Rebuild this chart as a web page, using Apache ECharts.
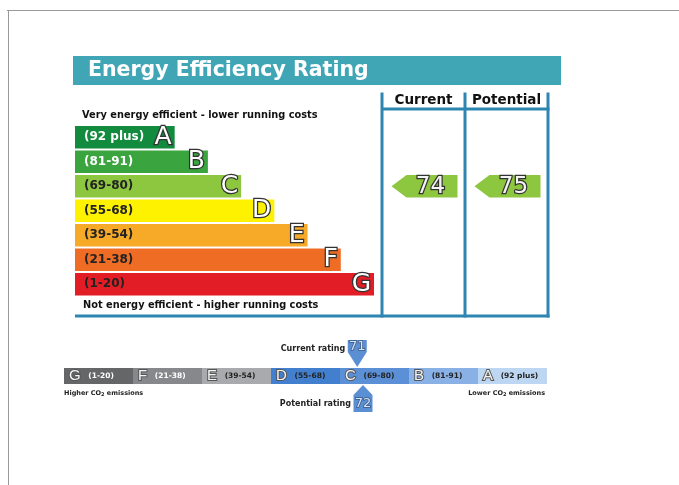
<!DOCTYPE html>
<html lang="en">
<head>
<meta charset="UTF-8">
<title>Energy Efficiency Rating</title>
<script src="https://cdn.jsdelivr.net/npm/echarts@6/dist/echarts.min.js"></script>
<style>
    body { margin: 0; padding: 0; background: #fff; }
</style>
</head>
<body>
<div id="main" style="width:679px;height:485px;"></div>
<script>
    // energy efficiency bands
    var bands = ['A', 'B', 'C', 'D', 'E', 'F', 'G'];
    var bandRanges = ['(92 plus)', '(81-91)', '(69-80)', '(55-68)', '(39-54)', '(21-38)', '(1-20)'];
    var bandMin = [92, 81, 69, 55, 39, 21, 1];
    var bandLength = [3, 4, 5, 6, 7, 8, 9];
    var columns = ['Current', 'Potential'];
    var ratings = [74, 75];

    // CO2 scale, low to high
    var co2Bands = ['G', 'F', 'E', 'D', 'C', 'B', 'A'];
    var co2Ranges = ['(1-20)', '(21-38)', '(39-54)', '(55-68)', '(69-80)', '(81-91)', '(92 plus)'];
    var co2Min = [1, 21, 39, 55, 69, 81, 92];
    var co2Max = [20, 38, 54, 68, 80, 91, 100];
    var co2Labels = ['Current rating', 'Potential rating'];
    var co2Ratings = [71, 72];

    var bandColors = ['#138b3f', '#3aa43e', '#8dc63f', '#fff200', '#f7a928', '#ee6c24', '#e31d26'];
    var bandTextColors = ['#fff', '#fff', '#222', '#222', '#222', '#222', '#222'];
    var co2Colors = ['#656668', '#87888b', '#a9aaad', '#4280cf', '#5b90d6', '#89b1e6', '#bdd6f2'];
    var co2TextColors = ['#fff', '#fff', '#222', '#222', '#222', '#222', '#222'];
    var frame = '#2e85b2';
    var font = '"DejaVu Sans", Verdana, sans-serif';
    var letterFont = '"Liberation Sans", Arial, sans-serif';

    function bandOf(v) {
        for (var i = 0; i < bandMin.length; i++) {
            if (v >= bandMin[i]) return i;
        }
        return bandMin.length - 1;
    }
    function co2Of(v) {
        for (var i = 0; i < co2Min.length; i++) {
            if (v >= co2Min[i] && v <= co2Max[i]) return i;
        }
        return 0;
    }

    var bandData = bandLength.map(function (v, i) {
        return { value: v, itemStyle: { color: bandColors[i] }, label: { color: bandTextColors[i] } };
    });
    var letterData = bandLength.map(function (v) { return v; });
    var arrowData = ratings.map(function (r, i) { return [i, bandOf(r), r]; });

    var co2Data = co2Bands.map(function (b, i) {
        return {
            value: 1,
            itemStyle: { color: co2Colors[i] },
            label: {
                formatter: '{l|' + b + '}  {t|' + co2Ranges[i] + '}',
                rich: {
                    l: { fontSize: 15, color: '#f4f4f4', textBorderColor: '#555', textBorderWidth: 2, fontFamily: letterFont },
                    t: { fontSize: 7.5, fontWeight: 'bold', color: co2TextColors[i], fontFamily: font }
                }
            }
        };
    });
    var markerData = co2Ratings.map(function (r, i) {
        var idx = co2Of(r);
        var frac = (r - co2Min[idx] + 1) / (co2Max[idx] - co2Min[idx] + 1);
        return [idx, frac, r, i];
    });

    var chart = echarts.init(document.getElementById('main'));
    var option = {
        backgroundColor: '#fff',
        animation: false,
        textStyle: { fontFamily: font },
        grid: [
            { left: 75, top: 125, width: 299, height: 171.5 },
            { left: 382, top: 125, width: 166, height: 171.5 },
            { left: 64, top: 368, width: 483, height: 16 }
        ],
        xAxis: [
            { gridIndex: 0, type: 'value', min: 0, max: 9, show: false },
            {
                gridIndex: 1, type: 'category', data: columns, position: 'top',
                axisLine: { show: false }, axisTick: { show: false },
                axisLabel: { interval: 0, hideOverlap: false, margin: 18, fontSize: 13.5, fontWeight: 'bold', color: '#111', fontFamily: font }
            },
            { gridIndex: 2, type: 'category', data: co2Bands, show: false }
        ],
        yAxis: [
            { gridIndex: 0, type: 'category', data: bands, inverse: true, show: false },
            { gridIndex: 1, type: 'category', data: bands, inverse: true, show: false },
            { gridIndex: 2, type: 'value', min: 0, max: 1, show: false }
        ],
        graphic: [
            { type: 'line', shape: { x1: 7, y1: 10.5, x2: 679, y2: 10.5 }, style: { stroke: '#999', lineWidth: 1 } },
            { type: 'line', shape: { x1: 8.5, y1: 10, x2: 8.5, y2: 485 }, style: { stroke: '#999', lineWidth: 1 } },
            { type: 'rect', shape: { x: 73, y: 56, width: 488, height: 29 }, style: { fill: '#40a6b6' } },
            {
                type: 'text', x: 88, y: 71,
                style: { text: 'Energy Efficiency Rating', fill: '#fff', fontSize: 20.5, fontWeight: 'bold', fontFamily: font, verticalAlign: 'middle' }
            },
            {
                type: 'text', x: 82, y: 115,
                style: { text: 'Very energy efficient - lower running costs', fill: '#111', fontSize: 9.8, fontWeight: 'bold', fontFamily: font, verticalAlign: 'middle' }
            },
            {
                type: 'text', x: 83, y: 305,
                style: { text: 'Not energy efficient - higher running costs', fill: '#111', fontSize: 9.8, fontWeight: 'bold', fontFamily: font, verticalAlign: 'middle' }
            },
            { type: 'line', shape: { x1: 382, y1: 92.5, x2: 382, y2: 317.5 }, style: { stroke: frame, lineWidth: 3 } },
            { type: 'line', shape: { x1: 465, y1: 92.5, x2: 465, y2: 317.5 }, style: { stroke: frame, lineWidth: 3 } },
            { type: 'line', shape: { x1: 548, y1: 92.5, x2: 548, y2: 317.5 }, style: { stroke: frame, lineWidth: 3 } },
            { type: 'line', shape: { x1: 382, y1: 109, x2: 549.5, y2: 109 }, style: { stroke: frame, lineWidth: 3 } },
            { type: 'line', shape: { x1: 75, y1: 316, x2: 549.5, y2: 316 }, style: { stroke: frame, lineWidth: 3 } },
            {
                type: 'text', x: 64, y: 393,
                style: {
                    text: 'Higher CO{s|2} emissions', fill: '#222', fontSize: 6.5, fontWeight: 'bold', fontFamily: font, verticalAlign: 'middle',
                    rich: { s: { fontSize: 5, fontWeight: 'bold', fontFamily: font, padding: [4, 0, 0, 0] } }
                }
            },
            {
                type: 'text', x: 545, y: 393,
                style: {
                    text: 'Lower CO{s|2} emissions', fill: '#222', fontSize: 6.5, fontWeight: 'bold', fontFamily: font, align: 'right', verticalAlign: 'middle',
                    rich: { s: { fontSize: 5, fontWeight: 'bold', fontFamily: font, padding: [4, 0, 0, 0] } }
                }
            }
        ],
        series: [
            {
                type: 'bar', xAxisIndex: 0, yAxisIndex: 0, data: bandData, barCategoryGap: '8%',
                label: {
                    show: true, position: 'insideLeft', distance: 9,
                    formatter: function (p) { return bandRanges[p.dataIndex]; },
                    fontSize: 12, fontWeight: 'bold', fontFamily: font
                }
            },
            {
                type: 'bar', xAxisIndex: 0, yAxisIndex: 0, data: letterData, barCategoryGap: '8%', barGap: '-100%',
                itemStyle: { color: 'rgba(0,0,0,0)' },
                label: {
                    show: true, position: 'insideRight', distance: 3,
                    formatter: function (p) { return bands[p.dataIndex]; },
                    fontSize: 25, color: '#fff', textBorderColor: '#333', textBorderWidth: 2.5, fontFamily: font
                }
            },
            {
                type: 'custom', xAxisIndex: 1, yAxisIndex: 1, data: arrowData,
                renderItem: function (params, api) {
                    var c = api.coord([api.value(0), api.value(1)]);
                    var h = api.size([0, 1])[1] * 0.92;
                    var x = c[0], y = c[1];
                    return {
                        type: 'group', children: [
                            {
                                type: 'polygon',
                                shape: { points: [[x - 32, y], [x - 17, y - h / 2], [x + 34, y - h / 2], [x + 34, y + h / 2], [x - 17, y + h / 2]] },
                                style: { fill: '#8dc63f' }
                            },
                            {
                                type: 'text', x: x + 7, y: y + 1,
                                style: {
                                    text: String(api.value(2)), fill: '#f4f4f4', stroke: '#333', lineWidth: 2.5,
                                    fontSize: 23, fontFamily: font, align: 'center', verticalAlign: 'middle'
                                }
                            }
                        ]
                    };
                }
            },
            {
                type: 'bar', xAxisIndex: 2, yAxisIndex: 2, data: co2Data, barCategoryGap: 0, barWidth: '100%',
                label: { show: true, position: 'insideLeft', distance: 5 }
            },
            {
                type: 'custom', xAxisIndex: 2, yAxisIndex: 2, data: markerData,
                renderItem: function (params, api) {
                    var idx = api.value(0), frac = api.value(1), which = api.value(3);
                    var w = api.size([1, 0])[0];
                    var top = api.coord([idx, 1]), bot = api.coord([idx, 0]);
                    var x = top[0] - w / 2 + frac * w;
                    var pts, ty, ly;
                    if (which === 0) {
                        var t = top[1];
                        pts = [[x, t - 1], [x - 9.5, t - 16], [x - 9.5, t - 28], [x + 9.5, t - 28], [x + 9.5, t - 16]];
                        ty = t - 21; ly = t - 19;
                    } else {
                        var b = bot[1];
                        pts = [[x, b + 1], [x - 9.5, b + 11], [x - 9.5, b + 28], [x + 9.5, b + 28], [x + 9.5, b + 11]];
                        ty = b + 20; ly = b + 20;
                    }
                    return {
                        type: 'group', children: [
                            { type: 'polygon', shape: { points: pts }, style: { fill: '#5b8fd3' } },
                            {
                                type: 'text', x: x, y: ty,
                                style: {
                                    text: String(api.value(2)), fill: '#d6e4f6', stroke: '#3a5a85', lineWidth: 1.5,
                                    fontSize: 13, fontFamily: font, align: 'center', verticalAlign: 'middle'
                                }
                            },
                            {
                                type: 'text', x: x - 12, y: ly,
                                style: {
                                    text: co2Labels[which], fill: '#222', fontSize: 8, fontWeight: 'bold',
                                    fontFamily: font, align: 'right', verticalAlign: 'middle'
                                }
                            }
                        ]
                    };
                }
            }
        ]
    };
    chart.setOption(option);
</script>
</body>
</html>
